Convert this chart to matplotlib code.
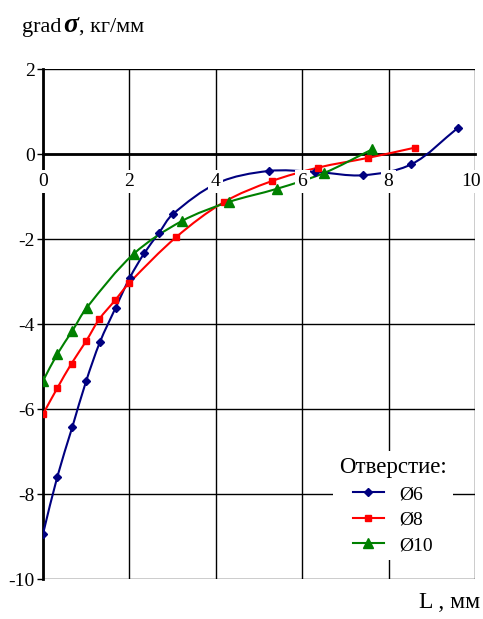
import matplotlib
matplotlib.use('Agg')
import matplotlib.pyplot as plt
from matplotlib.path import Path
from matplotlib.patches import PathPatch
from matplotlib.lines import Line2D

plt.rcParams['font.family'] = ['Liberation Serif', 'DejaVu Serif']
plt.rcParams['axes.unicode_minus'] = False

# данные (L, мм ; grad sigma)
x6 = [0, 0.33, 0.68, 1.0, 1.32, 1.68, 2.01, 2.34, 2.69, 3.0, 4.05, 5.22, 6.3, 7.41, 8.53, 9.61]
y6 = [-8.94, -7.6, -6.42, -5.34, -4.42, -3.62, -2.91, -2.34, -1.85, -1.42, -0.68, -0.40, -0.42, -0.50, -0.24, 0.62]

x8 = [0, 0.33, 0.66, 1.0, 1.3, 1.67, 2.0, 3.09, 4.19, 5.29, 6.37, 7.53, 8.61]
y8 = [-6.12, -5.51, -4.93, -4.4, -3.89, -3.44, -3.03, -1.95, -1.13, -0.64, -0.32, -0.09, 0.15]

x10 = [0, 0.33, 0.68, 1.01, 2.1, 3.21, 4.3, 5.41, 6.5, 7.62]
y10 = [-5.34, -4.71, -4.16, -3.62, -2.35, -1.58, -1.13, -0.82, -0.45, 0.11]

labels = ['Ø6', 'Ø8', 'Ø10']
xticks = [0, 2, 4, 6, 8, 10]
yticks = [2, 0, -2, -4, -6, -8, -10]


def smooth_path(xs, ys):
    # сглаженная линия как в Excel: кривые Безье через точки (хордовая параметризация)
    pts = list(zip(xs, ys))
    n = len(pts)
    d = [((pts[i + 1][0] - pts[i][0]) ** 2 + (pts[i + 1][1] - pts[i][1]) ** 2) ** 0.5 for i in range(n - 1)]
    tang = []
    for i in range(n):
        a = pts[max(i - 1, 0)]
        b = pts[min(i + 1, n - 1)]
        s = (d[i - 1] if i > 0 else 0) + (d[i] if i < n - 1 else 0)
        tang.append(((b[0] - a[0]) / s, (b[1] - a[1]) / s))
    verts = [pts[0]]
    codes = [Path.MOVETO]
    for i in range(n - 1):
        p1, p2 = pts[i], pts[i + 1]
        c1 = (p1[0] + tang[i][0] * d[i] / 3, p1[1] + tang[i][1] * d[i] / 3)
        c2 = (p2[0] - tang[i + 1][0] * d[i] / 3, p2[1] - tang[i + 1][1] * d[i] / 3)
        verts += [c1, c2, p2]
        codes += [Path.CURVE4] * 3
    return Path(verts, codes)


fig = plt.figure(figsize=(4.83, 6.19), dpi=100)
ax = fig.add_axes([43/483, 1-579/619, 432/483, 510/619])

series = [(x6, y6, '#000080', 'D', 4.5), (x8, y8, '#ff0000', 's', 5), (x10, y10, '#008000', '^', 6.5)]
handles = []
for (xs, ys, c, m, ms), lab in zip(series, labels):
    ax.add_patch(PathPatch(smooth_path(xs, ys), facecolor='none', edgecolor=c, lw=1.5, zorder=3))
    ax.plot(xs, ys, ls='none', marker=m, markersize=ms, color=c, zorder=4)
    handles.append(Line2D([], [], color=c, lw=1.5, marker=m, markersize=ms, label=lab))

ax.set_xlim(0, 10)
ax.set_ylim(-10, 2)
ax.set_xticks(xticks)
ax.set_yticks(yticks)
ax.grid(True, color='black', lw=1)
ax.set_axisbelow(True)

for s in ['top', 'right']:
    ax.spines[s].set_visible(False)
ax.spines['left'].set_linewidth(2)
ax.spines['bottom'].set_position(('data', 0))
ax.spines['bottom'].set_linewidth(2)

ax.tick_params(axis='y', direction='out', length=4, width=1, labelsize=14, pad=2)
ax.tick_params(axis='x', length=0, labelbottom=False)

# подписи оси X под нулевой линией, на белом фоне
for xv in xticks:
    xpos = xv - 0.1 if xv == 10 else xv
    ax.text(xpos, -0.65, str(xv), ha='center', va='center', fontsize=14, zorder=5,
            bbox=dict(facecolor='white', edgecolor='none', pad=2))

leg = ax.legend(handles=handles, title='Отверстие:', loc='upper center', bbox_to_anchor=(0.81, 0.27),
                fontsize=14, title_fontsize=16.5, frameon=True, framealpha=1,
                edgecolor='none', handlelength=1.6, labelspacing=0.4, borderpad=0.3)
leg.set_zorder(6)

fig.text(22/483, 1-32/619, 'grad', fontsize=16, ha='left', va='baseline')
fig.text(63/483, 1-32/619, 'σ', fontsize=20, ha='left', va='baseline', style='italic', weight='bold')
fig.text(79/483, 1-32/619, ', кг/мм', fontsize=16, ha='left', va='baseline')
fig.text(480/483, 1-608/619, 'L , мм', fontsize=17, ha='right', va='baseline')

fig.savefig('out.png', dpi=100, facecolor='white')
